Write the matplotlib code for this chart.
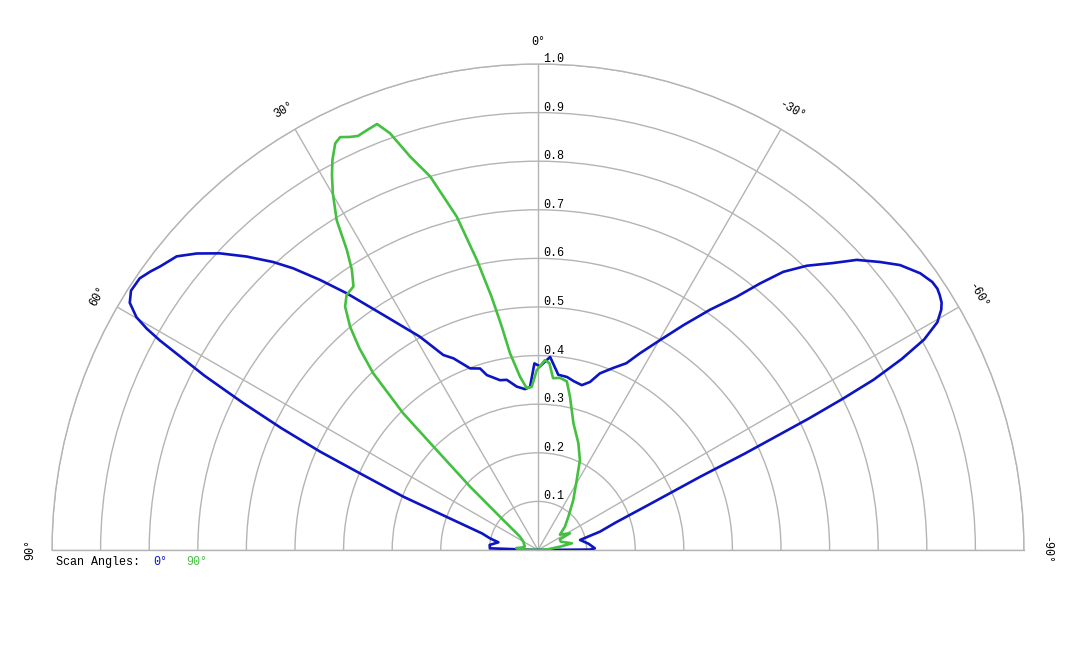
import numpy as np
import matplotlib
matplotlib.use("Agg")
import matplotlib.pyplot as plt
from matplotlib.transforms import offset_copy

# ---- data (angle in degrees, positive = left of 0°) ----
blue_theta = [90, 88, 84, 79, 76.3, 73.5, 70.5, 68.4, 66.7, 65.7, 64.6, 63.5, 62.4, 61.5, 61.0,
              60.5, 59.9, 58.8, 57.5, 55.7, 54.3, 53.1, 50.9, 49.0, 47.0, 44.8, 42.6, 41.0, 38.9,
              36.7, 33.0, 29.0, 25.9, 23.8, 20.5, 17.7, 16.3, 12.6, 10.4, 7.4, 4.6, 2.8, 1.1, -0.6,
              -3.6, -6.6, -9.5, -12.0, -14.9, -17.2, -19.3, -22.4, -25.3, -27.4, -30.2, -32.9,
              -35.6, -38.1, -39.8, -41.4, -43.4, -45.8, -47.7, -49.9, -51.8, -54.1, -55.8, -56.8,
              -57.6, -58.5, -59.2, -60.3, -61.4, -62.3, -63.1, -63.6, -64.1, -65.0, -65.7, -67.7,
              -70.5, -73.5, -76.6, -83.0, -88.3, -89.5, -90]
blue_r = [0.0, 0.099, 0.100, 0.083, 0.102, 0.120, 0.185, 0.298, 0.399, 0.492, 0.585, 0.678, 0.775,
          0.845, 0.890, 0.925, 0.955, 0.982, 0.993, 0.992, 0.982, 0.972, 0.958, 0.930, 0.895, 0.851,
          0.805, 0.768, 0.714, 0.659, 0.572, 0.502, 0.446, 0.431, 0.399, 0.392, 0.375, 0.358, 0.356,
          0.339, 0.332, 0.336, 0.384, 0.378, 0.398, 0.363, 0.361, 0.355, 0.351, 0.362, 0.385, 0.405,
          0.425, 0.456, 0.500, 0.551, 0.608, 0.662, 0.714, 0.763, 0.805, 0.847, 0.887, 0.920, 0.948,
          0.971, 0.981, 0.982, 0.979, 0.974, 0.966, 0.946, 0.905, 0.845, 0.774, 0.701, 0.620, 0.470,
          0.366, 0.249, 0.170, 0.133, 0.089, 0.105, 0.117, 0.107, 0.0]

green_theta = [90, 88, 85, 82, 76, 70, 60, 53.5, 49.2, 47.0, 45.4, 44.6, 43.0, 41.5, 40.1, 38.4,
               36.9, 35.0, 33.6, 32.5, 31.4, 29.9, 28.8, 27.8, 26.5, 25.6, 24.5, 23.5, 22.1, 20.7,
               19.55, 18.0, 16.1, 13.7, 11.9, 10.4, 9.2, 8.1, 5.9, 4.0, 2.2, 0.4, -2.1, -3.5, -5.0,
               -7.3, -9.7, -11.8, -15.6, -20.7, -25.0, -28.9, -35.2, -42.3, -49.2, -55.0, -62.4,
               -64.0, -70.0, -78.8, -81.4, -86.0, -90]
green_r = [0.0, 0.035, 0.045, 0.035, 0.028, 0.030, 0.035, 0.046, 0.094, 0.191, 0.293, 0.395, 0.497,
           0.555, 0.600, 0.639, 0.656, 0.662, 0.692, 0.732, 0.795, 0.847, 0.880, 0.907, 0.935, 0.942,
           0.934, 0.929, 0.933, 0.937, 0.910, 0.851, 0.800, 0.706, 0.610, 0.530, 0.465, 0.409, 0.358,
           0.334, 0.336, 0.370, 0.391, 0.385, 0.355, 0.357, 0.352, 0.322, 0.271, 0.235, 0.204, 0.165,
           0.126, 0.093, 0.073, 0.055, 0.074, 0.050, 0.050, 0.071, 0.046, 0.020, 0.0]

r_ticks = [0.1, 0.2, 0.3, 0.4, 0.5, 0.6, 0.7, 0.8, 0.9, 1.0]
r_tick_labels = ["0.1", "0.2", "0.3", "0.4", "0.5", "0.6", "0.7", "0.8", "0.9", "1.0"]
theta_ticks = [90, 60, 30, 0, -30, -60, -90]
theta_tick_labels = ["90°", "60°", "30°", "0°", "-30°", "-60°", "-90°"]
series_names = ["0°", "90°"]

BLUE = "#0c14c4"
GREEN = "#44c040"
GRID = "#b4b4b4"
FONT = "Liberation Mono"
FS = 8.5

W, H = 1080, 648
CX, CY, R = 538, 550, 486  # circle centre (pixels from top-left) and radius

fig = plt.figure(figsize=(W / 100, H / 100), dpi=100)
# polar wedge is padded to a square box; the half disc sits in the middle of it
box = 2 * R
left = (CX - R) / W
bottom = ((H - CY) - R / 2) / H
ax = fig.add_axes([left, bottom, box / W, box / H], projection="polar")
ax.set_theta_zero_location("N")
ax.set_theta_direction(1)
ax.set_thetamin(-90)
ax.set_thetamax(90)
ax.set_ylim(0, 1.0)
ax.patch.set_alpha(0)

ax.set_rticks(r_ticks)
ax.set_yticklabels([])
ax.set_thetagrids(theta_ticks, labels=[""] * len(theta_ticks))
ax.grid(True, color=GRID, linewidth=1.0)
for sp in ax.spines.values():
    sp.set_color(GRID)
    sp.set_linewidth(1.0)
ax.tick_params(length=0)

ax.plot(np.deg2rad(blue_theta), blue_r, color=BLUE, linewidth=1.9, zorder=3,
        solid_joinstyle="round")
ax.plot(np.deg2rad(green_theta), green_r, color=GREEN, linewidth=1.9, zorder=4,
        solid_joinstyle="round")

# radial labels along the 0° spoke
tr = offset_copy(ax.transData, fig=fig, x=5, y=-1, units="dots")
for r, lab in zip(r_ticks, r_tick_labels):
    ax.text(0, r, lab, transform=tr, ha="left", va="bottom", fontsize=FS,
            family=FONT, color="black", clip_on=False)

# angle labels
for t, lab in zip(theta_ticks, theta_tick_labels):
    ax.text(np.deg2rad(t), 1.045, lab, ha="center", va="center", rotation=t,
            rotation_mode="anchor", fontsize=FS, family=FONT, color="black", clip_on=False)

# legend text
y_leg = 1 - 562 / H
fig.text(56 / W, y_leg, "Scan Angles:", ha="left", va="center", fontsize=FS, family=FONT, color="black")
fig.text(153 / W, y_leg, series_names[0], ha="left", va="center", fontsize=FS, family=FONT, color=BLUE)
fig.text(186 / W, y_leg, series_names[1], ha="left", va="center", fontsize=FS, family=FONT, color=GREEN)

fig.savefig("out.png", dpi=100)
